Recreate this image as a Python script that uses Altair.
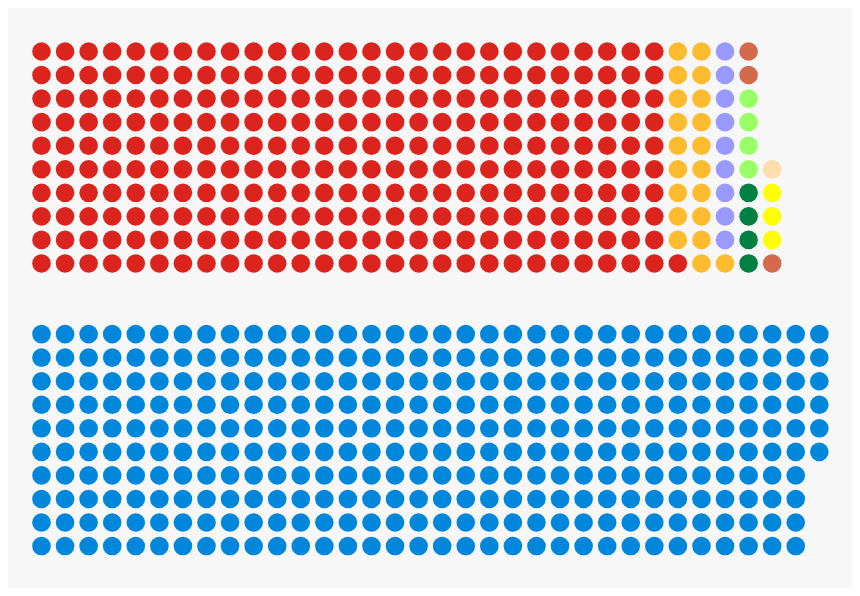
import altair as alt
import pandas as pd

# Upper block (filled column by column, bottom to top)
top_parties = ["Labour", "Liberal Democrats", "Other A", "Plaid Cymru", "Green", "DUP", "SNP", "Other B"]
top_seats = [271, 20, 9, 4, 4, 3, 3, 1]
top_colors = ["#dc241f", "#fdbb30", "#9999ff", "#008142", "#99ff66", "#d46a4c", "#ffff00", "#ffdead"]

# Lower block (filled column by column, top to bottom)
bottom_parties = ["Conservative"]
bottom_seats = [336]
bottom_colors = ["#0087dc"]

ROWS = 10
rows = []
i = 0
for p, n in zip(top_parties, top_seats):
    for _ in range(n):
        col, k = divmod(i, ROWS)
        rows.append({"party": p, "col": col, "row": ROWS - 1 - k})
        i += 1
i = 0
for p, n in zip(bottom_parties, bottom_seats):
    for _ in range(n):
        col, k = divmod(i, ROWS)
        rows.append({"party": p, "col": col, "row": ROWS + 2 + k})
        i += 1
df = pd.DataFrame(rows)

chart = alt.Chart(df).mark_circle(size=346, opacity=1).encode(
    x=alt.X("col:Q", scale=alt.Scale(domain=[-1.421, 34.387], nice=False, zero=False), axis=None),
    y=alt.Y("row:Q", scale=alt.Scale(domain=[-1.847, 22.781], nice=False, zero=False, reverse=True), axis=None),
    color=alt.Color("party:N",
                    scale=alt.Scale(domain=top_parties + bottom_parties, range=top_colors + bottom_colors),
                    legend=None),
).properties(
    width=844, height=580, background="#f7f7f7", padding=0, autosize="none"
).configure_view(stroke=None)

chart.save("out.html", embed_options={"renderer": "svg", "actions": False})
